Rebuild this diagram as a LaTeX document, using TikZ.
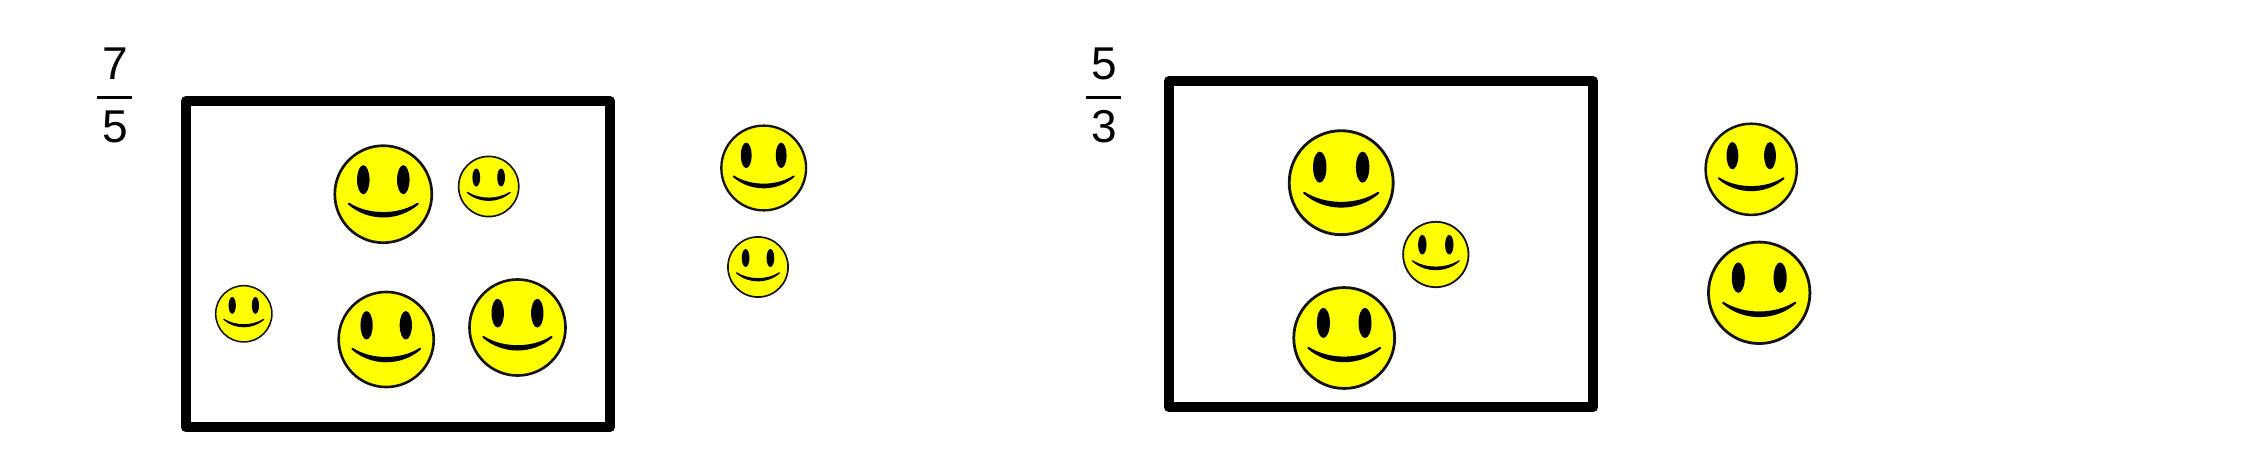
\documentclass[tikz,border=0pt]{standalone}
\usepackage{fontspec}
\setmainfont{Liberation Sans}
\definecolor{smileyellow}{HTML}{FFFF00}
\definecolor{smileline}{HTML}{141414}
\tikzset{
  digit/.style={inner sep=0pt,font=\fontsize{34.5pt}{36pt}\selectfont,text=black},
  fracbar/.style={line width=2pt,black},
  framebox/.style={line width=7.6pt,black,line join=round},
}
\newcommand{\smiley}[3]{%
  \begin{scope}[shift={(#1,#2)},x=#3*0.75pt,y=-#3*0.75pt]
    \fill[smileyellow] (0,0) circle (0.98);
    \draw[smileline,line width=#3*0.04pt] (0,0) circle (0.97);
    \fill[black] (-0.40,-0.29) ellipse (0.125 and 0.29);
    \fill[black] (0.40,-0.29) ellipse (0.125 and 0.29);
    \fill[black,draw=black,line width=#3*0.03pt,line join=round,line cap=round]
      (-0.69,0.19) .. controls (-0.30,0.53) and (0.30,0.53) .. (0.69,0.19)
      .. controls (0.30,0.44) and (-0.30,0.44) .. cycle;
  \end{scope}}
\begin{document}
\begin{tikzpicture}[x=0.75pt,y=-0.75pt]
  \useasboundingbox[fill=white] (0,0) rectangle (2266,464);
  % left group
  \node[digit] (sevenTop) at (115,64) {7};
  \node[digit] (fiveBot) at (115,127) {5};
  \coordinate (barAl) at (96.7,97.3);
  \coordinate (barAr) at (132.3,97.3);
  \draw[fracbar] (barAl) -- (barAr);
  \draw[framebox] (186,101) rectangle (610,427.3);
  \smiley{383.3}{194.2}{50}
  \smiley{488.7}{186.5}{31}
  \smiley{243.8}{313.8}{29}
  \smiley{386.2}{339.5}{49}
  \smiley{517.5}{327.5}{49.5}
  \smiley{763.7}{168}{43.7}
  \smiley{758}{267}{31}
  % right group
  \node[digit] (fiveTop) at (1104,64) {5};
  \node[digit] (threeBot) at (1104,127) {3};
  \coordinate (barBl) at (1085.7,97.3);
  \coordinate (barBr) at (1121,97.3);
  \draw[fracbar] (barBl) -- (barBr);
  \draw[framebox] (1169,81) rectangle (1593,407.3);
  \smiley{1341.2}{182.7}{53.6}
  \smiley{1435.8}{254.5}{33.7}
  \smiley{1344.2}{338}{52}
  \smiley{1751.2}{169.3}{47}
  \smiley{1759.2}{292.8}{52.3}
\end{tikzpicture}
\end{document}
